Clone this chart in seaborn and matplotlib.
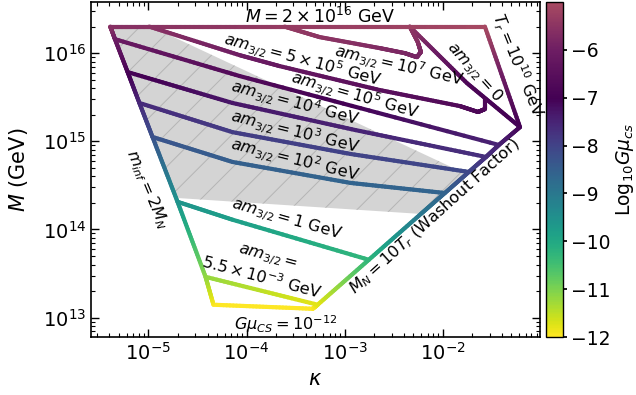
import numpy as np
import pandas as pd
import matplotlib
matplotlib.use("Agg")
import matplotlib.pyplot as plt
from matplotlib.colors import ListedColormap, Normalize
from matplotlib.cm import ScalarMappable
import seaborn as sns

sns.set_theme(style="ticks")
plt.rcParams.update({
    "font.family": ["DejaVu Sans"],
    "mathtext.fontset": "dejavusans",
    "axes.edgecolor": "black",
    "text.color": "black",
    "axes.labelcolor": "black",
    "xtick.color": "black",
    "ytick.color": "black",
    "hatch.linewidth": 0.7,
})

# ---- curves in the (kappa, M [GeV]) plane, with log10(G mu_cs) at each vertex ----
top_kappa = [4.09e-6, 1.02e-5, 2.44e-4, 4.6e-3, 2.68e-2]
top_M = [2.0e16, 2.0e16, 2.0e16, 2.0e16, 2.0e16]
top_gmu = [-5.6, -5.55, -5.35, -5.2, -5.05]

treh_kappa = [2.68e-2, 6.11e-2]
treh_M = [2.0e16, 1.45e15]
treh_gmu = [-5.05, -7.1]

am0_kappa = [4.6e-3, 1.76e-2, 6.11e-2]
am0_M = [2.0e16, 4.57e15, 1.45e15]
am0_gmu = [-5.5, -6.8, -7.1]

washout_kappa = [6.11e-2, 3.72e-2, 2.75e-2, 1.84e-2, 1.047e-2, 5.97e-3, 1.76e-3, 5.30e-4, 4.71e-4]
washout_M = [1.45e15, 9.09e14, 6.64e14, 4.49e14, 2.59e14, 1.50e14, 4.53e13, 1.40e13, 1.26e13]
washout_gmu = [-7.1, -7.5, -7.7, -8.1, -8.6, -9.0, -10.3, -11.8, -12.0]

minf_kappa = [4.09e-6, 4.56e-6, 6.14e-6, 8.09e-6, 1.10e-5, 1.98e-5, 3.82e-5, 4.6e-5]
minf_M = [2.0e16, 1.44e16, 6.1e15, 2.72e15, 1.12e15, 2.06e14, 2.9e13, 1.40e13]
minf_gmu = [-5.6, -6.1, -6.95, -7.6, -8.3, -9.6, -11.2, -12.0]

gmu12_kappa = [4.6e-5, 4.71e-4]
gmu12_M = [1.40e13, 1.26e13]
gmu12_gmu = [-12.0, -12.0]

am1e7_kappa = [2.44e-4, 5.56e-4, 2.28e-3, 4.09e-3, 5.43e-3, 5.97e-3, 5.56e-3, 4.6e-3]
am1e7_M = [2.0e16, 1.52e16, 1.14e16, 1.0e16, 9.01e15, 1.03e16, 1.33e16, 2.0e16]
am1e7_gmu = [-5.35, -5.5, -5.7, -5.8, -5.85, -5.8, -5.6, -5.5]

am5e5_kappa = [1.02e-5, 8.49e-5, 2.17e-4, 2.28e-3, 1.49e-2, 2.28e-2, 2.68e-2, 2.68e-2]
am5e5_M = [2.0e16, 9.49e15, 7.13e15, 3.81e15, 2.51e15, 2.15e15, 2.32e15, 3.01e15]
am5e5_gmu = [-5.55, -6.0, -6.2, -6.5, -6.7, -6.8, -6.8, -6.75]

am1e5_kappa = [4.56e-6, 8.49e-5, 3.72e-2]
am1e5_M = [1.44e16, 5.5e15, 9.09e14]
am1e5_gmu = [-6.1, -6.7, -7.5]

am1e4_kappa = [6.14e-6, 7.19e-5, 1.29e-3, 2.75e-2]
am1e4_M = [6.1e15, 2.72e15, 1.34e15, 6.64e14]
am1e4_gmu = [-6.95, -7.3, -7.5, -7.7]

am1e3_kappa = [8.09e-6, 7.19e-5, 1.15e-3, 1.84e-2]
am1e3_M = [2.72e15, 1.27e15, 7.18e14, 4.49e14]
am1e3_gmu = [-7.6, -7.9, -8.0, -8.1]

am1e2_kappa = [1.10e-5, 7.19e-5, 1.15e-3, 1.047e-2]
am1e2_M = [1.12e15, 5.83e14, 3.37e14, 2.59e14]
am1e2_gmu = [-8.3, -8.5, -8.6, -8.6]

am1_kappa = [1.98e-5, 7.19e-5, 1.76e-3]
am1_M = [2.06e14, 1.29e14, 4.53e13]
am1_gmu = [-9.6, -9.8, -10.3]

am55em4_kappa = [3.82e-5, 5.30e-4]
am55em4_M = [2.9e13, 1.40e13]
am55em4_gmu = [-11.2, -11.8]

# shaded (hatched) region
shade_kappa = [4.09e-6, 1.07e-5, 1.72e-2, 5.97e-3, 1.91e-5]
shade_M = [2.0e16, 2.0e16, 4.27e14, 1.50e14, 2.28e14]

curves = [
    (am1e7_kappa, am1e7_M, am1e7_gmu),
    (am5e5_kappa, am5e5_M, am5e5_gmu),
    (am1e5_kappa, am1e5_M, am1e5_gmu),
    (am1e4_kappa, am1e4_M, am1e4_gmu),
    (am1e3_kappa, am1e3_M, am1e3_gmu),
    (am1e2_kappa, am1e2_M, am1e2_gmu),
    (am1_kappa, am1_M, am1_gmu),
    (am55em4_kappa, am55em4_M, am55em4_gmu),
    (gmu12_kappa, gmu12_M, gmu12_gmu),
    (am0_kappa, am0_M, am0_gmu),
    (top_kappa, top_M, top_gmu),
    (treh_kappa, treh_M, treh_gmu),
    (washout_kappa, washout_M, washout_gmu),
    (minf_kappa, minf_M, minf_gmu),
]

# colour map: viridis (reversed) up to -7, then purple -> rose
low = sns.color_palette("viridis_r", as_cmap=True)(np.linspace(0, 1, 180))
high_cmap = sns.blend_palette(["#440154", "#6d1d63", "#a84a62"], as_cmap=True)
high = high_cmap(np.linspace(0, 1, 73))
cmap = ListedColormap(np.vstack([low, high[1:]]))
norm = Normalize(vmin=-12, vmax=-5)


def gradient_pieces(kappa, M, gmu, start_id, n=30):
    """Split a polyline into short pieces, each tagged with its own G mu."""
    lk, lm, g = np.log10(kappa), np.log10(M), np.asarray(gmu, float)
    rows, uid = [], start_id
    for i in range(len(lk) - 1):
        t = np.linspace(0, 1, n + 1)
        xs = lk[i] + (lk[i + 1] - lk[i]) * t
        ys = lm[i] + (lm[i + 1] - lm[i]) * t
        gs = g[i] + (g[i + 1] - g[i]) * t
        for j in range(n):
            gm = 0.5 * (gs[j] + gs[j + 1])
            rows.append((10 ** xs[j], 10 ** ys[j], gm, uid))
            rows.append((10 ** xs[j + 1], 10 ** ys[j + 1], gm, uid))
            uid += 1
    return rows, uid


fig = plt.figure(figsize=(6.36, 3.95), dpi=100)
ax = fig.add_axes([0.1431, 0.1468, 0.7060, 0.8481])
cax = fig.add_axes([0.8585, 0.1468, 0.0267, 0.8481])
ax.set_xscale("log")
ax.set_yscale("log")

ax.fill(shade_kappa, shade_M, facecolor="#d4d4d4", edgecolor="#b4b4b4",
        hatch="/", linewidth=0, zorder=1)

rows, uid = [], 0
for k, m, g in curves:
    r, uid = gradient_pieces(k, m, g, uid)
    rows += r
lines = pd.DataFrame(rows, columns=["kappa", "M", "gmu", "piece"])

sns.lineplot(data=lines, x="kappa", y="M", hue="gmu", units="piece",
             estimator=None, sort=False, palette=cmap, hue_norm=norm,
             legend=False, linewidth=3, solid_capstyle="round", ax=ax, zorder=3)

ax.set_xlim(10 ** -5.585, 10 ** -1.01)
ax.set_ylim(10 ** 12.78, 10 ** 16.58)

texts = [
    (5.56e-4, 2.60e16, r"$M = 2\times10^{16}$ GeV", 0, 12.5),
    (3.72e-4, 8.34e15, r"$am_{3/2} = 5\times10^{5}$ GeV", -15, 11.6),
    (3.55e-3, 7.13e15, r"$am_{3/2} = 10^{7}$ GeV", -13, 11.6),
    (1.27e-3, 3.34e15, r"$am_{3/2} = 10^{5}$ GeV", -16, 11.6),
    (2.12e-2, 6.1e15, r"$am_{3/2} = 0$", -48, 11.6),
    (5.75e-2, 7.31e15, r"$T_r = 10^{10}$ GeV", -68, 11.6),
    (3.09e-4, 2.70e15, r"$am_{3/2} = 10^{4}$ GeV", -15, 11.6),
    (3.09e-4, 1.27e15, r"$am_{3/2} = 10^{3}$ GeV", -14, 11.6),
    (3.09e-4, 6.10e14, r"$am_{3/2} = 10^{2}$ GeV", -14, 11.6),
    (2.56e-4, 1.32e14, r"$am_{3/2} = 1$ GeV", -16, 11.6),
    (1.53e-4, 3.67e13, r"$am_{3/2} =$" + "\n" + r"$5.5\times10^{-3}$ GeV", -15, 11.6),
    (2.50e-4, 8.53e12, r"$G\mu_{CS} = 10^{-12}$", 0, 11.6),
    (8.28e-3, 1.39e14, r"$M_N = 10T_r$ (Washout Factor)", 42, 11.6),
    (9.77e-6, 2.88e14, r"$m_{inf} = 2M_N$", -67, 11.6),
]
for x, y, s, rot, fs in texts:
    ax.text(x, y, s, fontsize=fs, rotation=rot, rotation_mode="anchor",
            ha="center", va="center", zorder=5, linespacing=1.1)

ax.set_xlabel(r"$\kappa$", fontsize=15)
ax.set_ylabel(r"$M$ (GeV)", fontsize=15, labelpad=9)
ax.tick_params(which="both", direction="in", top=True, right=True,
               labelsize=14, color="black")
ax.tick_params(which="major", length=6, width=1)
ax.tick_params(which="minor", length=3, width=0.8)
for sp in ax.spines.values():
    sp.set_linewidth(1.2)

cb = fig.colorbar(ScalarMappable(norm=norm, cmap=cmap), cax=cax,
                  ticks=[-12, -11, -10, -9, -8, -7, -6])
cb.ax.tick_params(labelsize=13.5, direction="out", length=3, pad=3)
cb.set_label(r"Log$_{10}G\mu_{cs}$", fontsize=13.5, labelpad=2)
cb.outline.set_linewidth(1)

fig.savefig("out.png", dpi=100)
